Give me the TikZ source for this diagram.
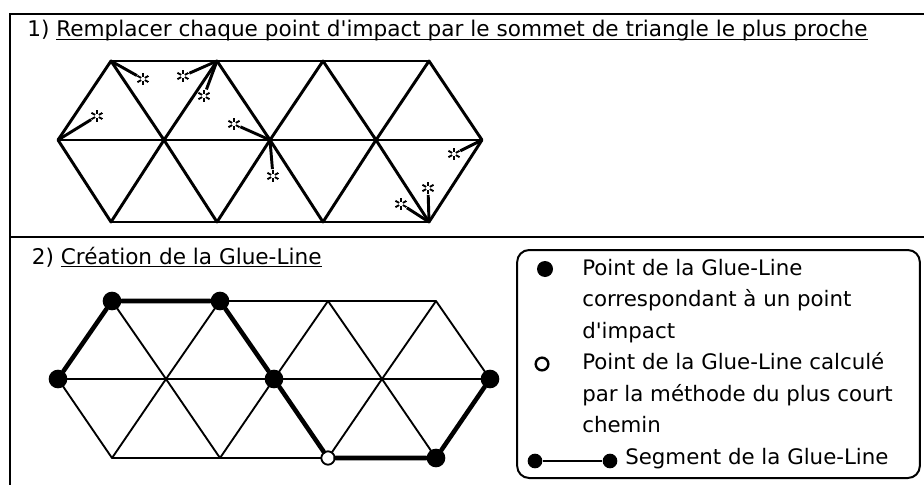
\documentclass[tikz,border=0pt]{standalone}
\usepackage{fontspec}
\setmainfont{DejaVu Sans}
\usetikzlibrary{positioning}
\definecolor{ink}{RGB}{0,0,0}
\tikzset{
  every picture/.style={color=ink},
  frame/.style={line width=1.5pt},
  mesh/.style={line width=2.2pt, line join=round},
  thinmesh/.style={line width=1.4pt, line join=round},
  hit/.style={line width=2.2pt},
  impact/.style={circle, inner sep=0pt, minimum size=10pt,
    path picture={\foreach \a in {30,90,...,330}
      \draw[line width=1.4pt] (path picture bounding box.center) ++(\a:1.6pt) -- ++(\a:3.2pt);}},
  gluept/.style={circle, fill=ink, inner sep=0pt, minimum size=14pt},
  gluehole/.style={circle, draw=ink, fill=white, line width=1.4pt, inner sep=0pt, minimum size=10pt},
  glue/.style={line width=3.4pt, line cap=round},
  head/.style={font=\fontsize{16.2}{19}\selectfont, inner sep=0pt, anchor=base west},
  legtext/.style={font=\fontsize{16}{19}\selectfont, inner sep=0pt, anchor=base west},
  legendbox/.style={draw=ink, line width=1.5pt, rounded corners=9pt, minimum width=302pt, minimum height=171pt},
  keydot/.style={circle, fill=ink, inner sep=0pt, minimum size=12pt},
  keyhole/.style={circle, draw=ink, line width=1.8pt, inner sep=0pt, minimum size=9.5pt},
  keyline/.style={line width=1.7pt},
}

\begin{document}
\begin{tikzpicture}[x=0.75pt, y=-0.75pt]
  \useasboundingbox (0,0) rectangle (924,485);
  % frame
  \draw[frame] (924,14) -- (10,14) -- (10,485);
  \draw[frame] (10,237) -- (924,237);
  % 1) impacts
  \node[head] (head1) at (27,37) {1) \underline{\smash{Remplacer chaque point d\textquotesingle impact par le sommet de triangle le plus proche}}};
  \foreach \i in {0,...,4} \coordinate (M\i) at (58+106*\i,140);
  \foreach \i in {0,...,3} { \coordinate (U\i) at (111+106*\i,61); \coordinate (D\i) at (111+106*\i,222); }
  \draw[mesh] (U0) -- (U3) (M0) -- (M4) (D0) -- (D3);
  \foreach \i [evaluate=\i as \j using int(\i+1)] in {0,...,3} \draw[mesh] (M\i) -- (U\i) -- (M\j) -- (D\i) -- cycle;
  \foreach \n/\x/\y/\v in {1/97/116/M0, 2/143/79/U0, 3/183/76/U1, 4/204/96/U1, 5/234/124/M2,
                           6/273/176/M2, 7/454/154/M4, 8/401/204/D3, 9/428/188/D3} {
    \node[impact] (i\n) at (\x,\y) {};
    \draw[hit] (\v) -- (i\n);
  }
  % 2) glue-line
  \node[head] (head2) at (31.5,264) {2) \underline{\smash{Création de la Glue-Line}}};
  \foreach \i in {0,...,4} \coordinate (GM\i) at (58+108*\i,379);
  \foreach \i in {0,...,3} { \coordinate (GU\i) at (112+108*\i,301); \coordinate (GD\i) at (112+108*\i,458); }
  \draw[thinmesh] (GU0) -- (GU3) (GM0) -- (GM4) (GD0) -- (GD3);
  \foreach \i [evaluate=\i as \j using int(\i+1)] in {0,...,3} \draw[thinmesh] (GM\i) -- (GU\i) -- (GM\j) -- (GD\i) -- cycle;
  \node[gluept] (g1) at (GM0) {};
  \node[gluept] (g2) at (GU0) {};
  \node[gluept] (g3) at (GU1) {};
  \node[gluept] (g4) at (GM2) {};
  \node[gluehole] (g5) at (GD2) {};
  \node[gluept] (g6) at (GD3) {};
  \node[gluept] (g7) at (GM4) {};
  \draw[glue] (g1) -- (g2) -- (g3) -- (g4) -- (g5) -- (g6) -- (g7);
  % legend
  \node[legendbox] (legend) at (718.5,364) {};
  \node[keydot] (k1) at (545,269) {};
  \node[keyhole] (k2) at (542,364) {};
  \node[keydot, minimum size=11pt] (k3a) at (535,461) {};
  \node[keydot, minimum size=11pt] (k3b) at (610,461) {};
  \draw[keyline] (k3a) -- (k3b);
  \foreach \t [count=\k from 0] in {Point de la Glue-Line, correspondant à un point, d\textquotesingle impact,
      Point de la Glue-Line calculé, par la méthode du plus court, chemin}
    \node[legtext] (t\k) at (582,275+31.5*\k) {\t};
  \node[legtext] (t6) at (625,464) {Segment de la Glue-Line};
\end{tikzpicture}
\end{document}
